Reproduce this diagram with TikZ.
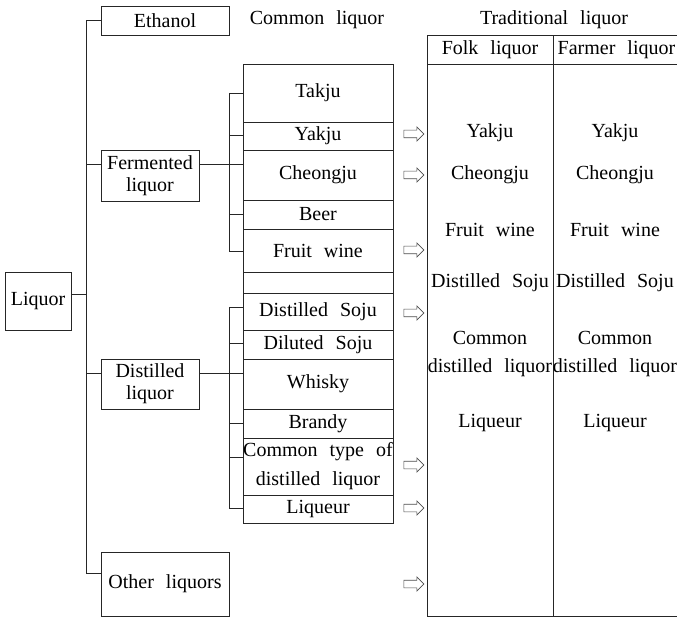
\documentclass[tikz,border=0pt]{standalone}
\usepackage{fontspec}
\setmainfont{Liberation Serif}[WordSpace=2.4]
\usetikzlibrary{shapes.arrows}
\begin{document}
\begin{tikzpicture}[x=1pt,y=-1pt,
  font=\fontsize{20}{22}\selectfont,
  line width=0.9pt, draw=black!85,
  box/.style={draw=black!85, inner sep=0pt, align=center},
  cell/.style={box, minimum width=150pt},
  lbl/.style={inner sep=0pt, align=center},
  conn/.style={draw=black!85, line width=0.9pt},
  harrow/.style={single arrow, draw=black!70, line width=0.6pt, fill=white,
    minimum height=20pt, minimum width=14pt, inner sep=0pt, inner ysep=3.5pt,
    single arrow head extend=3.25pt, single arrow tip angle=90}]
\useasboundingbox (0,0) rectangle (677,617);

% level 1 and 2 boxes
\node[box, minimum width=66pt, minimum height=58pt] (liquor) at (38,301) {Liquor};
\node[box, minimum width=128pt, minimum height=29pt] (ethanol) at (165,20.5) {Ethanol};
\node[box, minimum width=98pt, minimum height=51pt] (ferm) at (150,175.5) {Fermented\\liquor};
\node[box, minimum width=98pt, minimum height=50pt] (dist) at (150,384) {Distilled\\liquor};
\node[box, minimum width=128pt, minimum height=64pt] (other) at (165,584) {Other liquors};

% category column
\node[cell, minimum height=58pt] (takju) at (318,93) {Takju};
\node[cell, minimum height=28pt] (yakju) at (318,136) {Yakju};
\node[cell, minimum height=50pt] (cheongju) at (318,175) {Cheongju};
\node[cell, minimum height=29pt] (beer) at (318,214.5) {Beer};
\node[cell, minimum height=43pt] (fruit) at (318,250.5) {Fruit wine};
\node[cell, minimum height=21pt] (empty) at (318,282.5) {};
\node[cell, minimum height=37pt] (dsoju) at (318,311.5) {Distilled Soju};
\node[cell, minimum height=29pt] (dilsoju) at (318,344.5) {Diluted Soju};
\node[cell, minimum height=50pt] (whisky) at (318,384) {Whisky};
\node[cell, minimum height=29pt] (brandy) at (318,423.5) {Brandy};
\node[cell, minimum height=57pt, font=\fontsize{20}{29}\selectfont] (commont) at (318,466.5) {Common type of\\distilled liquor};
\node[cell, minimum height=28pt] (liqueur) at (318,509) {Liqueur};

% headers
\node[lbl] (hcommon) at (317,20) {Common liquor};
\node[lbl] (htrad) at (554,20) {Traditional liquor};

% main tree
\coordinate (mtop) at (86,20.5);
\coordinate (mbot) at (86,573);
\coordinate (jL) at (86,294);
\coordinate (jF) at (86,164);
\coordinate (jD) at (86,373);
\draw[conn] (mtop) -- (mbot);
\draw[conn] (liquor.east |- jL) -- (jL);
\draw[conn] (mtop) -- (ethanol.west);
\draw[conn] (jF) -- (ferm.west |- jF);
\draw[conn] (jD) -- (dist.west |- jD);
\draw[conn] (mbot) -- (other.west |- mbot);

% fermented subtree
\coordinate (fv1) at (229,93);
\coordinate (fv2) at (229,251);
\coordinate (fvy) at (229,135);
\coordinate (fvb) at (229,214);
\draw[conn] (fv1) -- (fv2);
\draw[conn] (ferm.east |- jF) -- (cheongju.west |- jF);
\draw[conn] (fv1) -- (takju.west |- fv1);
\draw[conn] (fvy) -- (yakju.west |- fvy);
\draw[conn] (fvb) -- (beer.west |- fvb);
\draw[conn] (fv2) -- (fruit.west |- fv2);

% distilled subtree
\coordinate (dv1) at (229,307);
\coordinate (dv2) at (229,508);
\coordinate (dvd) at (229,343);
\coordinate (dvb) at (229,423);
\coordinate (dvc) at (229,457);
\draw[conn] (dv1) -- (dv2);
\draw[conn] (dist.east |- jD) -- (whisky.west |- jD);
\draw[conn] (dv1) -- (dsoju.west |- dv1);
\draw[conn] (dvd) -- (dilsoju.west |- dvd);
\draw[conn] (dvb) -- (brandy.west |- dvb);
\draw[conn] (dvc) -- (commont.west |- dvc);
\draw[conn] (dv2) -- (liqueur.west |- dv2);

% arrows
\node[harrow] (a1) at (412,134) {};
\node[harrow] (a2) at (412,175) {};
\node[harrow] (a3) at (412,250) {};
\node[harrow] (a4) at (412,313) {};
\node[harrow] (a5) at (412,465) {};
\node[harrow] (a6) at (412,508) {};
\node[harrow] (a7) at (412,584) {};

% traditional liquor table
\node[box, minimum width=126pt, minimum height=29pt] (folkh) at (490,49.5) {Folk liquor};
\node[box, minimum width=127pt, minimum height=29pt] (farmh) at (616.5,49.5) {Farmer liquor};
\node[box, minimum width=126pt, minimum height=552pt] (folkb) at (490,340) {};
\node[box, minimum width=127pt, minimum height=552pt] (farmb) at (616.5,340) {};

\node[lbl] (fo1) at (490,133) {Yakju};
\node[lbl] (fo2) at (490,175) {Cheongju};
\node[lbl] (fo3) at (490,230) {Fruit wine};
\node[lbl] (fo4) at (490,283) {Distilled Soju};
\node[lbl, font=\fontsize{20}{28}\selectfont] (fo5) at (490,354) {Common\\distilled liquor};
\node[lbl] (fo6) at (490,423) {Liqueur};

\node[lbl] (fa1) at (615,133) {Yakju};
\node[lbl] (fa2) at (615,175) {Cheongju};
\node[lbl] (fa3) at (615,230) {Fruit wine};
\node[lbl] (fa4) at (615,283) {Distilled Soju};
\node[lbl, font=\fontsize{20}{28}\selectfont] (fa5) at (615,354) {Common\\distilled liquor};
\node[lbl] (fa6) at (615,423) {Liqueur};
\end{tikzpicture}
\end{document}
